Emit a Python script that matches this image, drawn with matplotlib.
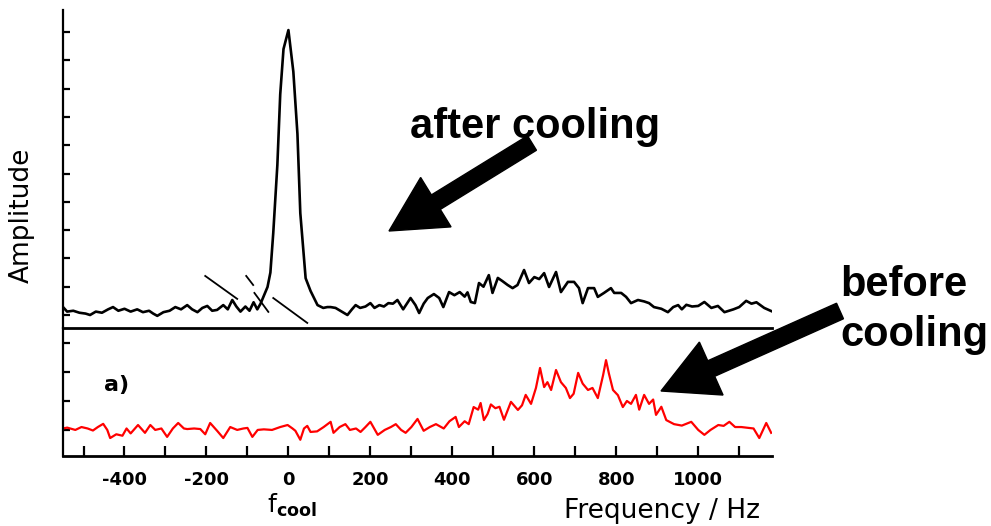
import matplotlib
matplotlib.use("Agg")
import matplotlib.pyplot as plt
from matplotlib.patches import FancyArrow

plt.rcParams['axes.unicode_minus'] = False
plt.rcParams['font.family'] = ['DejaVu Sans']

## Data

# after cooling (upper panel)
freq_after = [-550, -540, -525, -510, -495, -484, -470, -455, -440, -428, -415, -400, -385, -369,
              -355, -340, -330, -320, -305, -290, -276, -262, -247, -235, -222, -210, -198, -186,
              -174, -159, -148, -137, -127, -117, -105, -95, -85, -76, -68, -61, -51, -44, -37,
              -27, -20, -12, 0, 12, 22, 29, 42, 54, 71, 85, 95, 103, 115, 130, 144, 155, 164, 175,
              188, 200, 210, 222, 233, 244, 255, 266, 280, 298, 310, 319, 330, 340, 355, 368, 378,
              392, 405, 418, 430, 437, 445, 455, 465, 476, 489, 498, 511, 522, 535, 547, 559, 575,
              587, 600, 612, 624, 636, 653, 665, 682, 697, 709, 718, 731, 746, 755, 770, 787, 795,
              812, 824, 836, 853, 868, 880, 892, 910, 926, 939, 951, 960, 971, 985, 1000, 1015,
              1032, 1048, 1064, 1086, 1100, 1117, 1130, 1142, 1161, 1178]
amp_after = [0.28, 0.12, 0.15, 0.08, 0.05, 0.0, 0.12, 0.08, 0.2, 0.28, 0.15, 0.22, 0.12, 0.2,
             0.1, 0.15, 0.05, -0.03, 0.1, 0.15, 0.28, 0.2, 0.35, 0.2, 0.1, 0.25, 0.32, 0.15,
             0.18, 0.35, 0.2, 0.53, 0.3, 0.12, 0.3, 0.15, 0.45, 0.2, 0.4, 0.64, 0.99, 1.5, 2.9,
             5.3, 7.8, 9.4, 10.07, 8.6, 6.4, 3.6, 1.3, 0.85, 0.35, 0.25, 0.28, 0.28, 0.25,
             0.12, 0.0, 0.2, 0.35, 0.25, 0.3, 0.42, 0.25, 0.35, 0.3, 0.42, 0.4, 0.53, 0.2, 0.6,
             0.35, 0.07, 0.4, 0.6, 0.74, 0.6, 0.28, 0.81, 0.7, 0.81, 0.65, 0.8, 0.46, 0.42, 1.13,
             1.0, 1.41, 0.78, 1.31, 1.2, 1.06, 0.95, 1.06, 1.59, 1.13, 1.34, 1.27, 1.48, 0.99,
             1.52, 0.81, 1.17, 1.17, 0.95, 0.42, 0.95, 0.95, 0.64, 0.78, 0.95, 0.78, 0.78, 0.64,
             0.42, 0.53, 0.48, 0.42, 0.28, 0.22, 0.1, 0.28, 0.35, 0.2, 0.36, 0.3, 0.32, 0.46,
             0.25, 0.32, 0.1, 0.2, 0.28, 0.5, 0.4, 0.45, 0.25, 0.14]

# before cooling (lower panel)
freq_before = [-550, -540, -520, -505, -490, -477, -465, -452, -442, -435, -420, -405, -395, -385,
               -367, -350, -337, -325, -310, -296, -282, -269, -255, -247, -230, -215, -203, -191,
               -174, -159, -142, -125, -110, -100, -88, -75, -60, -40, -20, -2, 10, 17, 29, 38,
               46, 54, 70, 86, 103, 110, 125, 139, 150, 165, 176, 188, 200, 218, 235, 250, 262,
               275, 286, 300, 315, 330, 345, 360, 379, 393, 408, 416, 430, 440, 452, 463, 469,
               477, 486, 494, 505, 515, 526, 543, 560, 570, 579, 592, 604, 614, 624, 632, 641,
               653, 665, 677, 687, 696, 707, 718, 731, 742, 755, 768, 775, 782, 792, 804, 816,
               826, 836, 848, 856, 868, 880, 890, 897, 910, 922, 941, 960, 983, 1000, 1015, 1030,
               1049, 1062, 1076, 1090, 1105, 1122, 1135, 1149, 1166, 1178]
amp_before = [0.05, 0.08, 0.0, 0.1, 0.05, -0.02, 0.1, 0.21, 0.0, -0.28, -0.15, -0.2, 0.05, -0.12,
              0.17, -0.1, 0.17, 0.0, 0.05, -0.24, 0.05, 0.24, 0.05, 0.03, 0.05, 0.03, -0.15, 0.24,
              -0.03, -0.28, 0.1, 0.0, 0.05, 0.07, -0.24, 0.0, 0.02, 0.0, 0.1, 0.17, 0.05, -0.03,
              -0.34, 0.05, 0.14, -0.07, -0.05, 0.1, 0.28, -0.1, 0.1, 0.2, 0.0, 0.05, -0.07, 0.1,
              0.28, -0.17, 0.0, 0.1, 0.2, 0.0, -0.1, 0.1, 0.38, -0.03, 0.1, 0.2, 0.05, 0.3, 0.45,
              0.1, 0.3, 0.2, 0.79, 0.7, 0.93, 0.34, 0.55, 0.88, 0.75, 0.8, 0.35, 0.97, 0.69, 0.85,
              1.21, 0.9, 1.45, 2.14, 1.48, 1.65, 1.38, 2.07, 1.65, 1.45, 1.1, 1.25, 1.97, 1.6,
              1.38, 1.45, 1.1, 1.9, 2.41, 1.95, 1.38, 1.2, 0.79, 1.0, 0.9, 1.21, 0.7, 1.21, 0.9,
              1.05, 0.52, 0.8, 0.34, 0.2, 0.15, 0.28, 0.0, -0.17, 0.0, 0.17, 0.14, 0.28, 0.1, 0.1,
              0.07, 0.05, -0.28, 0.24, -0.1]

# hand-drawn slash marks near f_cool (f, amplitude) pairs
slashes = [((-203, -125), (1.38, 0.57)),
           ((-103, -86), (1.38, 1.06)),
           ((-83, -49), (0.78, 0.11)),
           ((-37, 46), (0.60, -0.28))]

xticks_major = [-400, -200, 0, 200, 400, 600, 800, 1000]
xticks_minor = [-500, -300, -100, 100, 300, 500, 700, 900, 1100]

fig = plt.figure(figsize=(9.91, 5.26), dpi=100)
ax_bot = fig.add_axes([0.0636, 0.1331, 0.7154, 0.2433])
ax_top = fig.add_axes([0.0636, 0.3764, 0.7154, 0.6046])
ax_top.patch.set_alpha(0)
ax_bot.patch.set_alpha(0)

ax_top.plot(freq_after, amp_after, color='black', lw=1.9)
for fx, fy in slashes:
    ax_top.plot(fx, fy, color='black', lw=1.3)
ax_bot.plot(freq_before, amp_before, color='#ff0000', lw=1.6)

ax_top.set_ylim(-0.46, 10.78)
ax_bot.set_ylim(-0.9, 3.52)
for ax in (ax_top, ax_bot):
    ax.set_xlim(-550, 1180)
    ax.spines['top'].set_visible(False)
    ax.spines['right'].set_visible(False)
    ax.spines['left'].set_linewidth(1.6)
    ax.spines['bottom'].set_linewidth(2.0)
    ax.tick_params(axis='y', direction='in', length=5, width=1.6, labelleft=False)

ax_top.set_yticks(range(0, 11))
ax_top.set_xticks([])
ax_bot.set_yticks([0, 1, 2, 3])
ax_bot.set_xticks(xticks_major)
ax_bot.set_xticks(xticks_minor, minor=True)
ax_bot.tick_params(axis='x', which='both', direction='in', length=7, width=1.6,
                   pad=11, labelsize=13)
for lab in ax_bot.get_xticklabels():
    lab.set_fontweight('bold')

ax_bot.text(-450, 1.55, 'a)', fontsize=16, fontweight='bold', ha='left', va='center')

# overlay in pixel coordinates for labels and arrows
ov = fig.add_axes([0, 0, 1, 1])
ov.set_xlim(0, 991)
ov.set_ylim(526, 0)
ov.axis('off')

ov.text(22, 215, 'Amplitude', rotation=90, fontsize=19, ha='center', va='center')
ov.text(662, 511, 'Frequency / Hz', fontsize=19, ha='center', va='center')
ov.text(292, 505, r'f$_{\mathbf{cool}}$', fontsize=18, ha='center', va='center')

bold = dict(family=['Liberation Sans', 'DejaVu Sans'], fontweight='bold', fontsize=30)
ov.text(535, 127, 'after cooling', ha='center', va='center', **bold)
ov.text(904, 285, 'before', ha='center', va='center', **bold)
ov.text(914, 335, 'cooling', ha='center', va='center', **bold)

ov.add_patch(FancyArrow(532, 143, -143, 88, width=17, head_width=58, head_length=55,
                        length_includes_head=True, color='black'))
ov.add_patch(FancyArrow(840, 311, -179, 80, width=17, head_width=58, head_length=55,
                        length_includes_head=True, color='black'))

fig.savefig('out.png', dpi=100)
